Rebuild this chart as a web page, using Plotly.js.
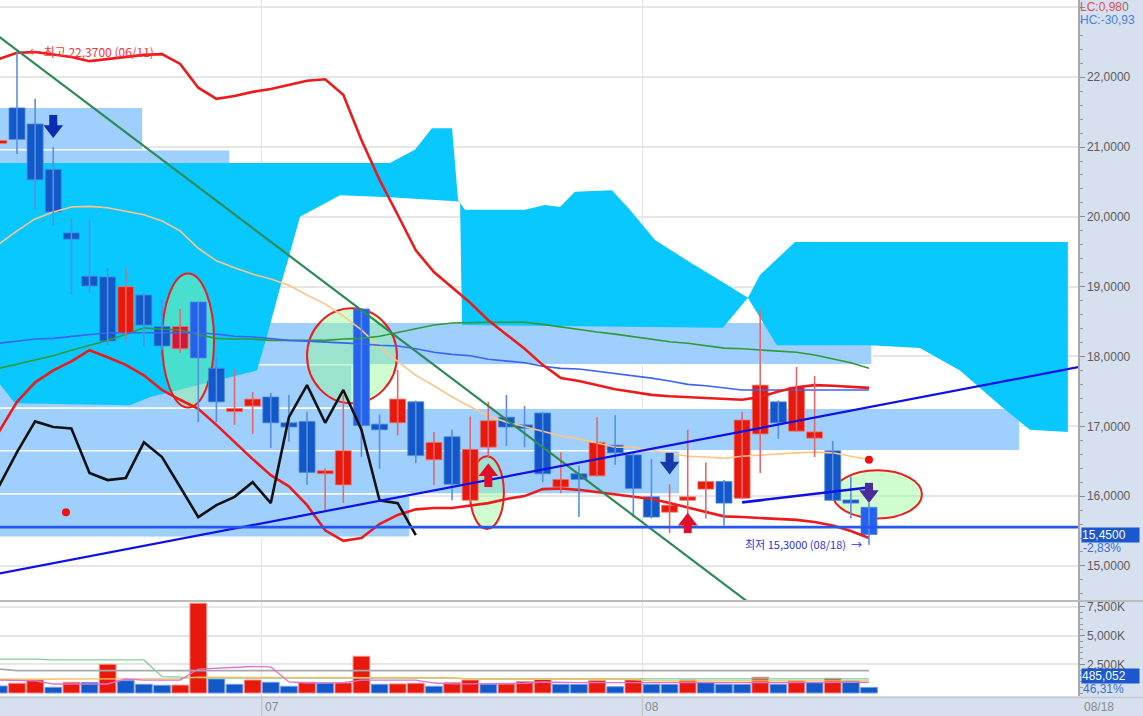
<!DOCTYPE html>
<html><head><meta charset="utf-8">
<script src="https://cdn.plot.ly/plotly-3.0.1.min.js"></script>
<style>html,body{margin:0;padding:0;background:#fff;overflow:hidden}#chart{width:1143px;height:716px}</style>
</head><body><div id="chart"></div>
<script>
// ---------- DATA ----------
const candleIdx = [0,1,2,3,4,5,6,7,8,9,10,11,12,13,14,15,16,17,18,19,20,21,22,23,24,25,26,27,28,29,30,31,32,33,34,35,36,37,38,39,40,41,42,43,44,45,46,47,48];
const open  = [21.05,21.56,21.33,20.68,19.77,19.15,19.14,18.33,18.88,18.43,18.11,18.78,17.83,17.21,17.29,17.42,17.05,17.07,16.32,16.16,18.68,17.03,17.05,17.35,16.52,16.85,15.94,16.70,17.13,17.02,17.19,16.13,16.32,16.29,16.73,16.59,15.99,15.77,15.94,16.10,16.21,15.97,16.89,17.35,16.93,16.83,16.65,15.94,15.84];
const high  = [21.08,22.37,21.69,21.00,19.98,19.95,19.27,19.28,18.91,18.81,18.68,18.79,17.99,17.81,17.49,17.48,17.45,17.21,16.40,17.45,18.68,17.17,17.81,17.37,16.92,16.95,17.14,17.35,17.45,17.29,17.20,16.63,16.44,17.13,17.16,16.62,16.53,16.17,16.95,16.48,16.23,17.21,18.66,17.37,17.85,17.72,16.79,16.28,15.90];
const low   = [21.05,20.90,20.10,19.88,18.88,18.91,18.16,18.21,18.14,18.09,18.05,17.06,17.06,17.02,16.89,16.69,16.78,16.16,15.80,15.90,16.56,16.39,16.87,16.47,16.16,15.94,15.92,16.56,16.72,16.70,16.20,16.04,15.70,16.28,16.45,15.70,15.68,15.47,15.66,15.68,15.58,15.96,16.33,16.82,16.92,16.56,15.94,15.68,15.30];
const close = [21.08,21.11,20.53,20.07,19.68,19.01,18.22,19.00,18.45,18.15,18.43,17.98,17.35,17.24,17.39,17.05,16.99,16.34,16.35,16.65,17.01,16.95,17.39,16.58,16.77,16.17,16.67,17.08,16.99,16.97,16.32,16.24,16.24,16.77,16.62,16.11,15.70,15.87,15.99,16.21,15.90,17.09,17.59,17.05,17.56,16.92,15.94,15.90,15.45];
const volume = [610000,846000,1133000,497000,933000,920000,2502000,1072000,758000,671000,690000,7820000,1221000,758000,1133000,933000,584000,933000,860000,880000,3200000,758000,790000,846000,584000,898000,1133000,758000,780000,985000,1194000,758000,740000,1072000,549000,1133000,758000,740000,1133000,933000,758000,740000,1369000,758000,1072000,898000,1282000,1047000,485052];

const maOrange = [19.61,19.80,19.97,20.07,20.14,20.15,20.13,20.08,20.03,19.94,19.80,19.55,19.37,19.27,19.18,19.11,19.02,18.88,18.75,18.58,18.38,18.13,17.93,17.73,17.58,17.42,17.28,17.15,17.06,17.00,16.93,16.86,16.82,16.76,16.70,16.70,16.66,16.62,16.57,16.56,16.54,16.57,16.59,16.60,16.62,16.63,16.62,16.57,16.52];
const maGreen  = [17.83,17.89,17.95,18.01,18.09,18.16,18.23,18.32,18.41,18.39,18.38,18.31,18.26,18.25,18.25,18.23,18.23,18.23,18.23,18.25,18.26,18.29,18.34,18.39,18.45,18.48,18.49,18.49,18.49,18.49,18.46,18.42,18.38,18.35,18.32,18.28,18.25,18.21,18.19,18.15,18.12,18.11,18.09,18.08,18.06,18.02,17.96,17.91,17.83];
const maBlue   = [18.19,18.22,18.25,18.26,18.29,18.32,18.34,18.34,18.34,18.34,18.34,18.34,18.32,18.29,18.28,18.25,18.23,18.22,18.21,18.19,18.18,18.16,18.15,18.11,18.06,18.03,18.01,17.96,17.93,17.91,17.86,17.83,17.82,17.79,17.76,17.73,17.69,17.65,17.60,17.58,17.55,17.52,17.52,17.52,17.52,17.52,17.52,17.52,17.52];
const bandUpper = [22.26,22.35,22.36,22.33,22.29,22.23,22.26,22.29,22.32,22.33,22.19,21.85,21.69,21.73,21.79,21.83,21.89,21.95,21.97,21.75,21.10,20.53,20.03,19.52,19.21,18.99,18.77,18.52,18.31,18.11,17.88,17.69,17.65,17.59,17.53,17.49,17.45,17.43,17.42,17.40,17.39,17.38,17.42,17.50,17.56,17.59,17.58,17.56,17.55];
const bandLower = [16.92,17.35,17.63,17.80,17.93,18.09,17.99,17.88,17.73,17.52,17.38,17.25,17.02,16.77,16.53,16.30,16.14,15.87,15.51,15.36,15.40,15.60,15.73,15.81,15.83,15.83,15.87,15.90,15.96,16.00,16.10,16.11,16.09,16.06,16.03,16.00,15.96,15.90,15.84,15.77,15.71,15.70,15.69,15.67,15.66,15.63,15.58,15.50,15.40];
const laggingIdx = [0,1,2,3,4,5,6,7,8,9,10,11,12,13,14,15,16,17,18,19,20,21,22,23];
const lagging = [16.14,16.63,17.07,16.99,16.97,16.33,16.23,16.26,16.77,16.56,16.13,15.70,15.87,15.99,16.20,15.90,17.13,17.59,17.05,17.52,16.95,15.94,15.90,15.44];

// Ichimoku cloud outline (x = candle index, y = price)
const cloudX = [-1,21.57,22.95,23.89,25.00,25.33,25.71,29.02,30.13,30.95,31.78,33.82,34.81,36.19,38.12,39.78,41.32,41.99,43.92,58.97,58.97,56.88,55.22,53.02,50.81,48.05,42.92,41.32,39.94,25.55,25.44,21.57,18.82,16.61,15.95,15.62,14.96,14.24,8.34,7.23,0.89,-1];
const cloudY = [20.77,20.77,20.96,21.27,21.27,20.24,20.10,20.10,20.17,20.14,20.36,20.38,20.10,19.67,19.35,19.09,18.84,19.17,19.64,19.64,16.92,16.95,17.30,17.80,18.12,18.16,18.16,18.84,18.41,18.45,20.22,20.28,20.31,20.00,19.38,19.09,18.45,17.80,17.42,17.30,17.33,17.95];

// price-volume profile bins
const profileEdges = [21.57,20.96,20.34,19.73,19.11,18.49,17.88,17.26,16.65,16.03,15.41];
const profileEnd   = [7.95,12.75,11.1,10.0,13.85,48.17,19.48,56.33,37.57,22.68];

// trend lines
const greenTrendX = [-1,42], greenTrendY = [22.78,14.35];
const blueTrendX = [-1,60], blueTrendY = [14.84,17.87];
const blueShortX = [41,48.2], blueShortY = [15.91,16.13];
const supportX = [-1,60], supportY = [15.556,15.556];

// signals
const arrowX = [3,37,48,27,38];
const arrowTop = [21.46,16.62,16.19,16.47,15.76];
const arrowBottom = [21.13,16.31,15.90,16.13,15.47];
const arrowDir = ['down','down','down','up','up'];
const dotX = [3.7,48], dotY = [15.77,16.52];

// ellipse highlights [x0,x1,y0,y1]
const ellX0 = [9.00,17.00,25.99,46.01], ellX1 = [11.87,21.96,27.86,50.92];
const ellY0 = [17.27,17.33,15.53,15.68], ellY1 = [19.19,18.69,16.57,16.37];

// volume moving averages
const volMaGray = [2090000,1950000,1950000,1950000,1950000,1950000,1950000,1950000,1950000,1950000,1950000,1950000,1950000,1950000,1950000,1950000,1950000,1950000,1950000,1950000,1950000,1950000,1950000,1950000,1950000,1950000,1950000,1950000,1950000,1950000,1950000,1950000,1950000,1950000,1950000,1950000,1950000,1950000,1950000,1950000,1950000,1950000,1950000,1950000,1950000,1950000,1950000,1950000,1950000];
const volMaGreen = [2960000,2960000,2960000,2880000,2880000,2880000,2880000,2880000,2880000,1420000,1380000,1300000,1300000,1300000,1300000,1300000,1300000,1300000,1300000,1300000,1300000,1300000,1300000,1300000,1300000,1300000,1230000,1230000,1230000,1230000,1230000,1230000,1230000,1230000,1230000,1230000,1230000,1230000,1230000,1230000,1230000,1230000,1230000,1230000,1230000,1230000,1230000,1230000,1230000];
const volMaYellow = [1200000,1200000,1200000,1200000,1200000,1200000,1200000,1200000,1200000,1200000,1250000,1380000,1380000,1380000,1330000,1330000,1330000,1330000,1330000,1330000,1330000,1330000,1330000,1330000,1330000,1330000,1200000,1200000,1200000,1200000,1200000,1200000,1200000,1200000,1200000,1200000,1050000,1050000,1050000,1050000,1050000,1050000,1050000,1050000,1050000,1050000,1050000,1050000,1050000];
const volMaPink = [1130000,1100000,1050000,785000,785000,785000,785000,1220000,1130000,1130000,1130000,2090000,2180000,2270000,2310000,2270000,960000,870000,870000,910000,1130000,1130000,1130000,1130000,870000,800000,800000,800000,820000,850000,960000,900000,900000,900000,900000,900000,870000,870000,870000,870000,870000,870000,920000,920000,920000,920000,920000,920000,920000];

const priceTicks = [15,16,17,18,19,20,21,22,23];
const priceTickText = ['15,0000','16,0000','17,0000','18,0000','19,0000','20,0000','21,0000','22,0000',''];
const volTicks = [2500000,5000000,7500000];
const volTickText = ['2,500K','5,000K','7,500K'];
const monthTicks = [14.5,35.5];
const monthText = ['07','08'];

// ---------- DRAWING ----------
const RED='#e8190c', BLUE='#1358c8', RED_W='#e4686a', BLUE_W='#5a8ee0';
const HIL = {10:'#d3173c',11:'#2462ee',20:'#2462ee',48:'#2462ee'};
const yMin=14.512, yMax=23.106, xMin=0.062, xMax=59.53;
const PX = 600/(yMax-yMin);

const isUp = candleIdx.map(i=>close[i]>=open[i]);
const wU={x:[],y:[]}, wD={x:[],y:[]};
candleIdx.forEach(i=>{const w=isUp[i]?wU:wD; w.x.push(i,i,null); w.y.push(low[i],high[i],null);});
const bodyBase = candleIdx.map(i=>Math.min(open[i],close[i]));
const bodyH = candleIdx.map(i=>Math.max(Math.abs(close[i]-open[i]),0.045));
const bodyCol = candleIdx.map(i=>HIL[i]||(isUp[i]?RED:BLUE));
const bodyLine = candleIdx.map(i=>isUp[i]?'#f07a70':'#4d86e0');
const volCol = candleIdx.map(i=>(i>0 && volume[i]>=volume[i-1])?RED:BLUE);
const volLine = candleIdx.map(i=>(i>0 && volume[i]>=volume[i-1])?'#f38a84':'#6c9ae6');

const traces = [];
function line(x,y,color,width,xa,ya){traces.push({type:'scatter',mode:'lines',x:x,y:y,xaxis:xa||'x',yaxis:ya||'y',line:{color:color,width:width},hoverinfo:'skip',showlegend:false});}

// volume panel
line(candleIdx,volMaGray,'#a9a9a9',1.6,'x2','y2');
traces.push({type:'bar',x:candleIdx,y:volume,xaxis:'x2',yaxis:'y2',width:0.92,marker:{color:volCol,line:{color:volLine,width:1}},hoverinfo:'skip',showlegend:false});
line(candleIdx,volMaGreen,'#7fcf98',1.3,'x2','y2');
line(candleIdx,volMaYellow,'#f2c060',1.3,'x2','y2');
line(candleIdx,volMaPink,'#e070d8',1.3,'x2','y2');

// moving averages and bands
line(candleIdx,maOrange,'#ffc488',1.6);
line(candleIdx,maGreen,'#2f9a38',1.6);
line(candleIdx,maBlue,'#3a64f2',1.6);
line(candleIdx,bandUpper,'#ee1a1a',2.6);
line(candleIdx,bandLower,'#ee1a1a',2.6);

// candles
traces.push({type:'scatter',mode:'lines',x:wU.x,y:wU.y,line:{color:RED_W,width:1.6},hoverinfo:'skip',showlegend:false,connectgaps:false});
traces.push({type:'scatter',mode:'lines',x:wD.x,y:wD.y,line:{color:BLUE_W,width:1.6},hoverinfo:'skip',showlegend:false,connectgaps:false});
traces.push({type:'bar',x:candleIdx,y:bodyH,base:bodyBase,width:0.88,marker:{color:bodyCol,line:{color:bodyLine,width:0.8}},hoverinfo:'skip',showlegend:false});

// lagging line and trend lines
line(laggingIdx,lagging,'#111111',2.6);
line(greenTrendX,greenTrendY,'#2e8b57',2.2);
line(blueTrendX,blueTrendY,'#1010e6',2.2);
line(blueShortX,blueShortY,'#1010e6',2.6);
line(supportX,supportY,'#2457ee',2.6);

// arrows
const arrowCol = ['#0b2bb0','#1a3aa8','#4a2c9c','#e0102c','#e0102c'];
arrowX.forEach((x,k)=>{
  const c=arrowCol[k];
  if(arrowDir[k]==='down'){
    const tip=arrowBottom[k];
    line([x,x],[arrowTop[k],tip+11.5/PX],c,8);
    traces.push({type:'scatter',mode:'markers',x:[x],y:[tip+8.5/PX],marker:{symbol:'triangle-down',size:17,color:c,line:{width:0}},hoverinfo:'skip',showlegend:false});
  } else {
    const tip=arrowTop[k];
    line([x,x],[arrowBottom[k],tip-11.5/PX],c,8);
    traces.push({type:'scatter',mode:'markers',x:[x],y:[tip-8.5/PX],marker:{symbol:'triangle-up',size:17,color:c,line:{width:0}},hoverinfo:'skip',showlegend:false});
  }
});
traces.push({type:'scatter',mode:'markers',x:dotX,y:dotY,marker:{color:'#ee1111',size:8},hoverinfo:'skip',showlegend:false});

// shapes
const shapes=[];
for(let k=0;k<profileEnd.length;k++){
  shapes.push({type:'rect',xref:'x',yref:'y',x0:-2,x1:profileEnd[k],y0:profileEdges[k+1],y1:profileEdges[k],fillcolor:'#9fcffd',line:{color:'#ffffff',width:1.5},layer:'between'});
}
shapes.push({type:'path',xref:'x',yref:'y',path:'M'+cloudX.map((x,i)=>x+','+cloudY[i]).join('L')+'Z',fillcolor:'#08c8fe',line:{width:0},layer:'between'});
for(let k=0;k<ellX0.length;k++){
  shapes.push({type:'circle',xref:'x',yref:'y',x0:ellX0[k],x1:ellX1[k],y0:ellY0[k],y1:ellY1[k],fillcolor:'rgba(150,250,150,0.45)',line:{color:'#ee1c1c',width:2},layer:'between'});
}
const mainBottom = 1-600/696, volTop = (696-602)/696;
shapes.push({type:'line',xref:'paper',yref:'paper',x0:0,x1:1.07,y0:(mainBottom+volTop)/2,y1:(mainBottom+volTop)/2,line:{color:'#bcbcbc',width:2}});
shapes.push({type:'line',xref:'paper',yref:'paper',x0:0,x1:1.07,y0:-0.002,y1:-0.002,line:{color:'#c4c8d0',width:1.5}});
monthTicks.forEach(t=>shapes.push({type:'line',xref:'x',yref:'paper',x0:t,x1:t,y0:-0.03,y1:0,line:{color:'#c8c8c8',width:1.5}}));

// annotations
const F='Liberation Sans';
const ann=[];
ann.push({xref:'x',yref:'y',x:1.55,y:22.37,text:'← 최고 22,3700 (06/11)',showarrow:false,xanchor:'left',yanchor:'middle',font:{family:'Noto Sans CJK KR',size:12,color:'#ff3030'}});
ann.push({xref:'x',yref:'y',x:47.7,y:15.31,text:'최저 15,3000 (08/18)  →',showarrow:false,xanchor:'right',yanchor:'middle',font:{family:'Noto Sans CJK KR',size:11,color:'#3030e0'}});
monthTicks.forEach((t,k)=>ann.push({xref:'x2',yref:'paper',x:t,y:0,yshift:-11,xshift:1,text:monthText[k],showarrow:false,xanchor:'left',yanchor:'middle',font:{family:F,size:12,color:'#8a8a8a'}}));
ann.push({xref:'paper',yref:'paper',x:1,y:0,yshift:-11,xshift:4,text:'08/18',showarrow:false,xanchor:'left',yanchor:'middle',font:{family:F,size:12,color:'#8a8a8a'}});
ann.push({xref:'paper',yref:'paper',x:1,y:1,xshift:0,yshift:2,text:'LC:0,98<span style="color:#777">0</span>',showarrow:false,xanchor:'left',yanchor:'top',font:{family:F,size:12,color:'#e05050'}});
ann.push({xref:'paper',yref:'paper',x:1,y:1,xshift:0,yshift:-11,text:'HC:-30,93',showarrow:false,xanchor:'left',yanchor:'top',font:{family:F,size:12,color:'#4a80e0'}});
ann.push({xref:'paper',yref:'y',x:1,y:close[48],xshift:3,text:'15,4500',showarrow:false,xanchor:'left',yanchor:'middle',bgcolor:'#1b57cf',width:57,align:'left',borderpad:0,font:{family:F,size:12,color:'#ffffff'}});
ann.push({xref:'paper',yref:'y',x:1,y:close[48],xshift:3,yshift:-13,text:'-2,83%',showarrow:false,xanchor:'left',yanchor:'middle',font:{family:F,size:12,color:'#3b6fd8'}});
ann.push({xref:'paper',yref:'y2',x:1,y:1520000,xshift:3,text:'485,052',showarrow:false,xanchor:'left',yanchor:'middle',bgcolor:'#1b57cf',width:57,align:'left',borderpad:0,font:{family:F,size:12,color:'#ffffff'}});
ann.push({xref:'paper',yref:'y2',x:1,y:1520000,xshift:3,yshift:-13,text:'46,31%',showarrow:false,xanchor:'left',yanchor:'middle',font:{family:F,size:12,color:'#3b6fd8'}});

const axisFont={family:F,size:12,color:'#5c5c5c'};
const layout={
  width:1143,height:716,margin:{l:0,r:65,t:0,b:20},
  paper_bgcolor:'#d6e0ee',plot_bgcolor:'#ffffff',showlegend:false,
  bargap:0,hovermode:false,
  xaxis:{domain:[0,1],range:[xMin,xMax],anchor:'y',tickvals:monthTicks,showticklabels:false,showgrid:true,gridcolor:'#e3e3e3',gridwidth:1.5,zeroline:false,ticks:'',showline:false,fixedrange:true},
  xaxis2:{matches:'x',anchor:'y2',tickvals:monthTicks,showticklabels:false,showgrid:true,gridcolor:'#e3e3e3',gridwidth:1.5,zeroline:false,ticks:'',showline:false},
  yaxis:{domain:[mainBottom,1],range:[yMin,yMax],anchor:'x',side:'right',tickvals:priceTicks,ticktext:priceTickText,tickfont:axisFont,showgrid:true,gridcolor:'#e6e6e6',gridwidth:2,zeroline:false,ticks:'outside',ticklen:5,tickcolor:'#8c8c8c',showline:true,linecolor:'#a8a8a8',linewidth:1.5,
         minor:{tickmode:'linear',tick0:15,dtick:0.2,ticks:'outside',ticklen:3,tickcolor:'#9a9a9a',showgrid:false}},
  yaxis2:{domain:[0,volTop],range:[-262000,7934000],anchor:'x2',side:'right',tickvals:volTicks,ticktext:volTickText,tickfont:axisFont,showgrid:true,gridcolor:'#e6e6e6',gridwidth:2,zeroline:false,ticks:'outside',ticklen:5,tickcolor:'#8c8c8c',showline:true,linecolor:'#a8a8a8',linewidth:1.5,
         minor:{tickmode:'linear',tick0:0,dtick:500000,ticks:'outside',ticklen:3,tickcolor:'#9a9a9a',showgrid:false}},
  shapes:shapes,annotations:ann
};
Plotly.newPlot('chart',traces,layout,{displayModeBar:false,staticPlot:true});
</script></body></html>
